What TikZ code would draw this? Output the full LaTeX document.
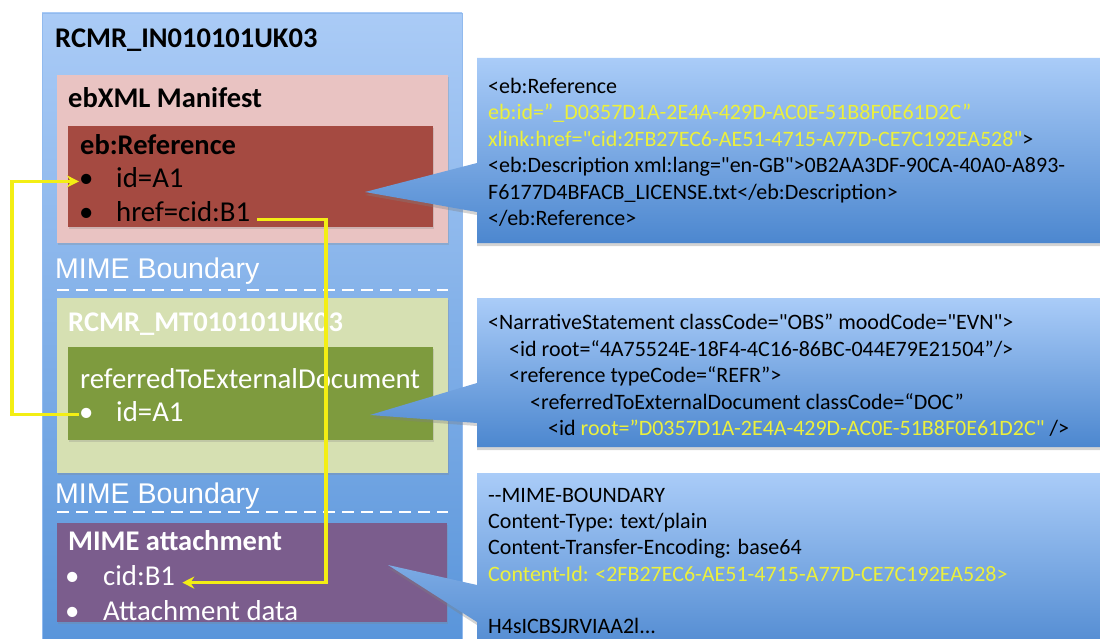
\documentclass[tikz,border=0pt]{standalone}
\usepackage{fontspec}
\setmainfont{Carlito}
\newfontfamily\codefont{Carlito}[Ligatures=TeXOff]
\newfontfamily\arialfont{Liberation Sans}
\usepackage{xcolor}
\usetikzlibrary{calc, arrows.meta, shadows}

\definecolor{msgtop}{RGB}{170,203,246}
\definecolor{msgbot}{RGB}{88,148,218}
\definecolor{calltop}{RGB}{170,204,248}
\definecolor{callbot}{RGB}{76,135,207}
\definecolor{manifestpink}{RGB}{233,195,194}
\definecolor{refred}{RGB}{165,74,65}
\definecolor{payloadgreen}{RGB}{214,224,178}
\definecolor{docgreen}{RGB}{126,155,62}
\definecolor{attachpurple}{RGB}{123,93,141}
\definecolor{linkyellow}{RGB}{243,238,20}
\definecolor{codeyellow}{RGB}{236,240,60}

\begin{document}
\begin{tikzpicture}[x=1pt, y=-1pt,
    partbox/.style={anchor=north west, inner sep=0pt, outer sep=0pt},
    softshadow/.style={drop shadow={shadow xshift=1pt, shadow yshift=-2pt, opacity=0.25}},
    boxtxt/.style={anchor=base west, inner sep=0pt, font=\fontsize{28.8}{30}\selectfont},
    boxhead/.style={boxtxt, font=\bfseries\fontsize{28.5}{30}\selectfont},
    boundtxt/.style={anchor=base west, inner sep=0pt, text=white, font=\arialfont\fontsize{28.5}{30}\selectfont},
    mimeline/.style={draw=white, line width=2pt, dash pattern=on 12pt off 7pt},
    callshape/.style={top color=calltop, bottom color=callbot, drop shadow={shadow xshift=0pt, shadow yshift=-3pt, opacity=0.35}},
    xmltxt/.style={anchor=north west, inner sep=0pt, align=left, font=\codefont\fontsize{22}{26.5}\selectfont},
    yellowlink/.style={draw=linkyellow, line width=3.2pt, -{Stealth[length=12pt, width=12pt]}}]

    \useasboundingbox (0,0) rectangle (1100,639);
    \clip (0,0) rectangle (1100,639);

    % message and its parts
    \node[partbox, minimum width=420pt, minimum height=640pt, top color=msgtop, bottom color=msgbot, draw=msgtop!70!msgbot] (msgbox) at (42,13) {};
    \node[partbox, minimum width=391pt, minimum height=168pt, fill=manifestpink, softshadow] (manifest) at (57,75) {};
    \node[partbox, minimum width=365pt, minimum height=101pt, fill=refred, softshadow] (ebref) at (68,126) {};
    \node[partbox, minimum width=391pt, minimum height=175pt, fill=payloadgreen, softshadow] (payload) at (57,298) {};
    \node[partbox, minimum width=365pt, minimum height=93pt, fill=docgreen, softshadow] (extdoc) at (68,347) {};
    \node[partbox, minimum width=390pt, minimum height=99pt, fill=attachpurple, softshadow] (attach) at (57,523) {};

    \draw[mimeline] (57,290) -- (448,290);
    \draw[mimeline] (57,512) -- (448,512);

    \node[boxhead] (msgtitle) at (55,48) {RCMR\_IN010101UK03};
    \node[boxhead] (mantitle) at (68,108) {ebXML Manifest};
    \node[boxhead] (reftitle) at (80,155) {eb:Reference};
    \node[boxtxt] (refbul) at (79,188) {•};
    \node[boxtxt] (refid) at (116,188) {id=A1};
    \node[boxtxt] (hrefbul) at (79,222) {•};
    \node[boxtxt] (hreftxt) at (116,222) {href=cid:B1};

    \node[boundtxt] (bound1) at (55,278) {MIME Boundary};

    \node[boxhead, text=white] (paytitle) at (68,331) {RCMR\_MT010101UK03};
    \node[boxtxt, text=white] (doctitle) at (80,388) {referredToExternalDocument};
    \node[boxtxt, text=white] (docbul) at (79,421) {•};
    \node[boxtxt, text=white] (docid) at (116,421) {id=A1};

    \node[boundtxt] (bound2) at (55,503) {MIME Boundary};

    \node[boxhead, text=white] (atttitle) at (68,550) {MIME attachment};
    \node[boxtxt, text=white] (cidbul) at (65,585) {•};
    \node[boxtxt, text=white] (cidtxt) at (103,585) {cid:B1};
    \node[boxtxt, text=white] (databul) at (65,620) {•};
    \node[boxtxt, text=white] (datatxt) at (103,620) {Attachment data};

    % callouts
    \coordinate (tipref) at (365,192);
    \coordinate (tipdoc) at (370,415);
    \coordinate (tipatt) at (388,565);

    \path[callshape] (477,58) -- (1110,58) -- (1110,243) -- (477,243) -- (477,212) -- (tipref) -- (477,163) -- cycle;
    \path[callshape] (477,298) -- (1110,298) -- (1110,447) -- (477,447) -- (477,423) -- (tipdoc) -- (477,383) -- cycle;
    \path[callshape] (477,473) -- (1110,473) -- (1110,660) -- (477,660) -- (477,622) -- (tipatt) -- (477,585) -- cycle;

    \node[xmltxt] (xmlref) at (488,78) {<eb:Reference\\
        \textcolor{codeyellow}{eb:id=”\_D0357D1A-2E4A-429D-AC0E-51B8F0E61D2C”}\\
        \textcolor{codeyellow}{xlink:href="cid:2FB27EC6-AE51-4715-A77D-CE7C192EA528"}>\\
        <eb:Description xml:lang="en-GB">0B2AA3DF-90CA-40A0-A893-\\
        F6177D4BFACB\_LICENSE.txt</eb:Description>\\
        </eb:Reference>};

    \node[xmltxt] (xmldoc) at (488,314) {<NarrativeStatement classCode="OBS” moodCode="EVN">\\
        \hspace*{21pt}<id root=“4A75524E-18F4-4C16-86BC-044E79E21504”/>\\
        \hspace*{21pt}<reference typeCode=“REFR”>\\
        \hspace*{42pt}<referredToExternalDocument classCode=“DOC”\\
        \hspace*{60pt}<id \textcolor{codeyellow}{root=”D0357D1A-2E4A-429D-AC0E-51B8F0E61D2C"} />};

    \node[xmltxt, font=\codefont\fontsize{22}{26.2}\selectfont] (xmlatt) at (488,488) {-{}-MIME-BOUNDARY\\
        Content-Type: text/plain\\
        Content-Transfer-Encoding: base64\\
        \textcolor{codeyellow}{Content-Id: <2FB27EC6-AE51-4715-A77D-CE7C192EA528>}\\
        \\
        H4sICBSJRVIAA2l...};

    % links
    \coordinate (leftrail) at (12,0);
    \coordinate (rightrail) at (326,0);
    \draw[yellowlink] (docbul.west) -- (docbul.west -| leftrail) |- (refbul.west);
    \draw[yellowlink] ([xshift=7pt]hreftxt.mid east) -- (hreftxt.mid east -| rightrail) |- ([xshift=7pt]cidtxt.mid east);
\end{tikzpicture}
\end{document}
